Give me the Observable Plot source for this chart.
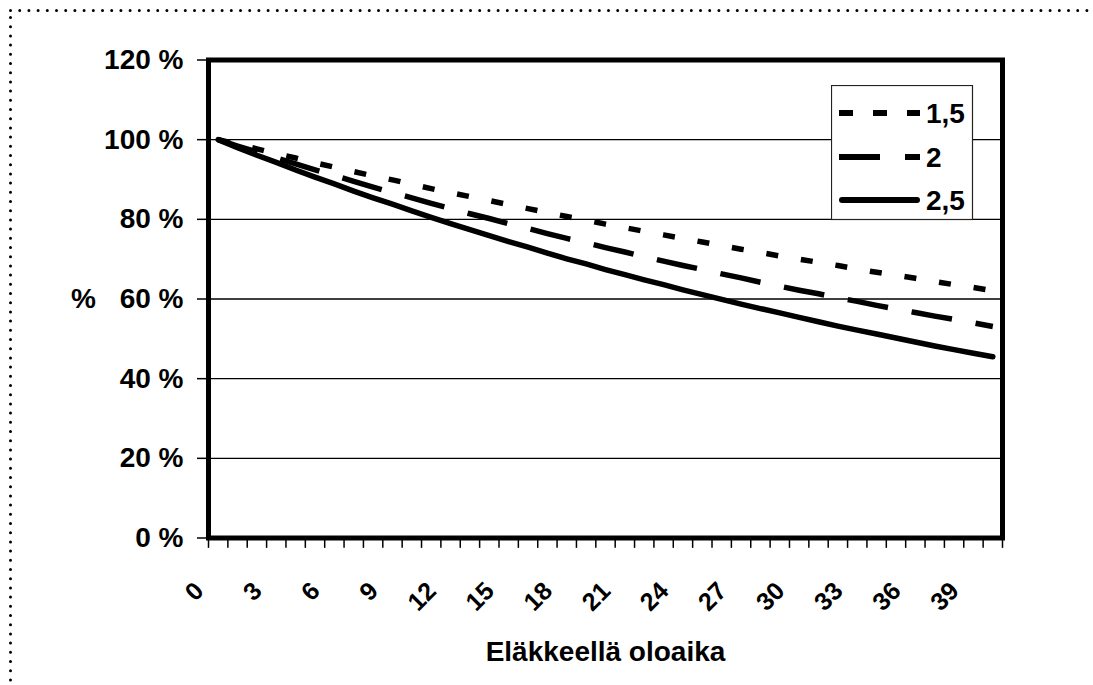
<!DOCTYPE html>
<html><head><meta charset="utf-8">
<script src="https://cdn.jsdelivr.net/npm/d3@7"></script>
<script src="https://cdn.jsdelivr.net/npm/@observablehq/plot@0.6"></script>
<style>
body{margin:0;background:#fff;font-family:Arial,"Liberation Sans",sans-serif;}
#wrap{position:relative;width:1093px;height:685px;overflow:hidden;}
#legend{position:absolute;left:831px;top:85px;}
</style></head><body><div id="wrap"></div>
<script>
// ---- data ----
const years = [0,1,2,3,4,5,6,7,8,9,10,11,12,13,14,15,16,17,18,19,20,21,22,23,24,25,26,27,28,29,30,31,32,33,34,35,36,37,38,39,40];
const s15 = [100,98.8,97.7,96.5,95.4,94.2,93.1,92.0,90.9,89.9,88.8,87.7,86.7,85.7,84.7,83.7,82.7,81.7,80.7,79.8,78.8,77.9,77.0,76.1,75.2,74.3,73.4,72.5,71.7,70.8,70.0,69.2,68.4,67.5,66.7,66.0,65.2,64.4,63.6,62.9,62.1];
const s20 = [100,98.4,96.9,95.4,93.9,92.4,91.0,89.5,88.1,86.7,85.4,84.0,82.7,81.4,80.2,78.9,77.7,76.4,75.2,74.1,72.9,71.8,70.6,69.5,68.4,67.4,66.3,65.3,64.2,63.2,62.2,61.3,60.3,59.4,58.4,57.5,56.6,55.7,54.9,54.0,53.1];
const s25 = [100,98.0,96.1,94.3,92.4,90.6,88.9,87.1,85.4,83.8,82.1,80.5,78.9,77.4,75.9,74.4,73.0,71.5,70.1,68.8,67.4,66.1,64.8,63.6,62.3,61.1,59.9,58.7,57.6,56.5,55.4,54.3,53.2,52.2,51.2,50.2,49.2,48.2,47.3,46.4,45.5];
const seriesNames = ["1,5", "2", "2,5"];
const xTickLabels = [0,3,6,9,12,15,18,21,24,27,30,33,36,39];
const yTicks = [0,20,40,60,80,100,120];
const xTitle = "Eläkkeellä oloaika";
const yTitle = "%";

// ---- table ----
const rows = years.map((t, i) => ({t, v15: s15[i], v20: s20[i], v25: s25[i]}));
const boundaries = years.map(t => t - 0.5).concat([years[years.length - 1] + 0.5]);
const dashes = ["12,23", "41,24", null];
const seriesKeys = ["v15", "v20", "v25"];

const W = 1093, H = 685;
const L = 208, R = 1002, T = 59.5, B = 537.5;
const FONT = 'Arial,"Liberation Sans",sans-serif';

const chart = Plot.plot({
  width: W, height: H,
  marginLeft: L, marginRight: W - R, marginTop: T, marginBottom: H - B,
  style: {fontFamily: FONT, background: "white", overflow: "visible", color: "#000"},
  x: {type: "linear", domain: [-0.5, years.length - 0.5], axis: null},
  y: {domain: [0, 120], axis: null},
  marks: [
    // outer dotted border
    Plot.frame({insetLeft: 10 - L, insetTop: 10 - T, insetRight: -300, insetBottom: -300,
      stroke: "#000", strokeWidth: 3, strokeDasharray: "0,9.2", strokeLinecap: "round"}),
    Plot.ruleY(yTicks.filter(d => d > 0 && d < 120), {stroke: "#000", strokeWidth: 1.3}),
    ...seriesKeys.map((k, i) => Plot.line(rows, {
      x: "t", y: k, stroke: "#000", strokeWidth: 5.5,
      strokeDasharray: dashes[i] ?? undefined,
      strokeLinecap: dashes[i] ? "butt" : "round", strokeLinejoin: "round"
    })),
    Plot.frame({stroke: "#000", strokeWidth: 5}),
    Plot.ruleX(boundaries, {x: d => d, y1: d => 0, y2: d => -2.6, stroke: "#000", strokeWidth: 1.5}),
    Plot.axisY(yTicks, {anchor: "left", label: null, tickSize: 11, tickPadding: 14,
      tickFormat: d => `${d} %`, fontSize: 28, fontWeight: "bold", strokeWidth: 1.5}),
    Plot.text(xTickLabels, {x: d => d, text: d => String(d), frameAnchor: "bottom",
      dy: 54.5, dx: -13, rotate: -45, textAnchor: "end", lineAnchor: "bottom",
      fontSize: 25, fontWeight: "bold", fill: "#000"}),
    Plot.text([xTitle], {frameAnchor: "bottom", dy: 122.5, lineAnchor: "bottom",
      fontSize: 28, fontWeight: "bold", fill: "#000"}),
    Plot.text([yTitle], {frameAnchor: "left", dx: -125, textAnchor: "middle",
      fontSize: 28, fontWeight: "bold", fill: "#000"})
  ]
});
document.getElementById("wrap").appendChild(chart);

// ---- legend (inside plot area, upper right) ----
const legendDash = ["14,20", "41,25", null];
const rowY = [28, 72, 115];
const ns = "http://www.w3.org/2000/svg";
const lg = document.createElementNS(ns, "svg");
lg.setAttribute("id", "legend");
lg.setAttribute("width", 143); lg.setAttribute("height", 136);
lg.style.fontFamily = FONT;
let html = `<rect x="0.5" y="0.5" width="141" height="134" fill="white" stroke="#222" stroke-width="1.2"/>`;
seriesNames.forEach((name, i) => {
  const solid = !legendDash[i];
  html += `<line x1="${solid ? 11 : 8}" x2="${solid ? 86 : 89}" y1="${rowY[i]}" y2="${rowY[i]}" stroke="#000" stroke-width="6" ${solid ? 'stroke-linecap="round"' : `stroke-dasharray="${legendDash[i]}"`}/>`;
  html += `<text x="95" y="${rowY[i]}" dy="0.36em" font-size="28" font-weight="bold" fill="#000">${name}</text>`;
});
lg.innerHTML = html;
document.getElementById("wrap").appendChild(lg);
</script></body></html>
